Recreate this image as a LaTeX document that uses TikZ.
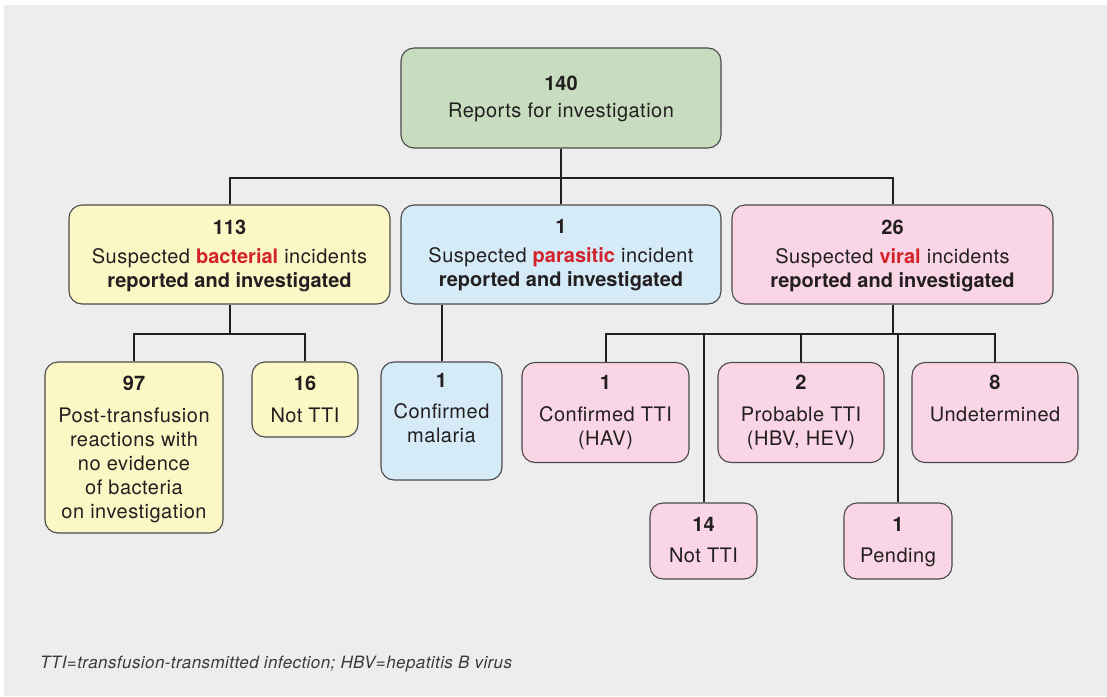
\documentclass[tikz,border=0pt]{standalone}
\usepackage{fontspec}
\setmainfont{TeX Gyre Heros}[LetterSpace=2.5, BoldFeatures={LetterSpace=0}]
\definecolor{bg}{HTML}{EDEDED}
\definecolor{ink}{HTML}{231F20}
\definecolor{edge}{HTML}{4A4A4A}
\definecolor{gfill}{HTML}{C8DDC0}
\definecolor{yfill}{HTML}{FCF8C5}
\definecolor{bfill}{HTML}{D5EBF8}
\definecolor{pfill}{HTML}{F9D5E5}
\definecolor{hl}{HTML}{D2232A}
\definecolor{notec}{HTML}{3A3A3A}
\newcommand{\hlw}[1]{\textcolor{hl}{\textbf{#1}}}
\begin{document}
\begin{tikzpicture}[x=1pt,y=-1pt,
  box/.style={draw=edge, line width=1.1pt, rounded corners=13pt, inner sep=0pt},
  gbox/.style={box, fill=gfill},
  ybox/.style={box, fill=yfill},
  bbox/.style={box, fill=bfill},
  pbox/.style={box, fill=pfill},
  txt/.style={align=center, inner sep=0pt, text=ink, anchor=north, font=\fontsize{20}{24}\selectfont},
  link/.style={draw=ink, line width=2pt}]
\useasboundingbox (0,0) rectangle (1107,696);
\fill[bg] (4,5) rectangle (1107,696);

% level 0
\node[gbox, minimum width=320pt, minimum height=100pt] (top) at (561,98) {};
\node[txt] (topT) at ([yshift=-28pt]top.north) {\textbf{140}\\[3pt]Reports for investigation};

% level 1
\node[ybox, minimum width=321pt, minimum height=99pt] (bact) at (229.5,254.5) {};
\node[txt] (bactT) at ([yshift=-15pt]bact.north) {\textbf{113}\\[5pt]Suspected \hlw{bacterial} incidents\\\textbf{reported and investigated}};

\node[bbox, minimum width=320pt, minimum height=99pt] (para) at (561,254.5) {};
\node[txt] (paraT) at ([yshift=-15pt]para.north) {\textbf{1}\\[5pt]Suspected \hlw{parasitic} incident\\\textbf{reported and investigated}};

\node[pbox, minimum width=321pt, minimum height=99pt] (viral) at (892.5,254.5) {};
\node[txt] (viralT) at ([yshift=-15pt]viral.north) {\textbf{26}\\[5pt]Suspected \hlw{viral} incidents\\\textbf{reported and investigated}};

% level 2 bacterial
\node[ybox, minimum width=178pt, minimum height=171pt] (b97) at (134,447.5) {};
\node[txt] (b97T) at ([yshift=-14pt]b97.north) {\textbf{97}\\[8pt]Post-transfusion\\reactions with\\no evidence\\of bacteria\\on investigation};

\node[ybox, minimum width=106pt, minimum height=75pt] (b16) at (305,399.5) {};
\node[txt] (b16T) at ([yshift=-14pt]b16.north) {\textbf{16}\\[8pt]Not TTI};

% level 2 parasitic
\node[bbox, minimum width=121pt, minimum height=118pt] (mal) at (441.5,421) {};
\node[txt] (malT) at ([yshift=-12pt]mal.north) {\textbf{1}\\[7pt]Confirmed\\malaria};

% level 2 viral
\node[pbox, minimum width=167pt, minimum height=100pt] (ctti) at (605.5,412.5) {};
\node[txt] (cttiT) at ([yshift=-13pt]ctti.north) {\textbf{1}\\[8pt]Confirmed TTI\\(HAV)};

\node[pbox, minimum width=166pt, minimum height=100pt] (ptti) at (801,412.5) {};
\node[txt] (pttiT) at ([yshift=-13pt]ptti.north) {\textbf{2}\\[8pt]Probable TTI\\(HBV, HEV)};

\node[pbox, minimum width=166pt, minimum height=100pt] (und) at (995,412.5) {};
\node[txt] (undT) at ([yshift=-13pt]und.north) {\textbf{8}\\[8pt]Undetermined};

\node[pbox, minimum width=107pt, minimum height=76pt] (n14) at (703.5,541) {};
\node[txt] (n14T) at ([yshift=-15pt]n14.north) {\textbf{14}\\[7pt]Not TTI};

\node[pbox, minimum width=108pt, minimum height=76pt] (pend) at (898,541) {};
\node[txt] (pendT) at ([yshift=-15pt]pend.north) {\textbf{1}\\[7pt]Pending};

% connectors
\draw[link] (top.south) -- ++(0,29) -| (bact.north);
\draw[link] (top.south) -- ++(0,29) -| (viral.north);
\draw[link] (top.south) -- (para.north);

\draw[link] (bact.south) -- ++(0,29) -| (b97.north);
\draw[link] (bact.south) -- ++(0,29) -| (b16.north);

\draw[link] (mal.north |- para.south) -- (mal.north);

\draw[link] (viral.south) -- ++(0,29) -| (ctti.north);
\draw[link] (viral.south) -- ++(0,29) -| (ptti.north);
\draw[link] (viral.south) -- ++(0,29) -| (und.north);
\draw[link] (viral.south) -- ++(0,29) -| (n14.north);
\draw[link] (viral.south) -- ++(0,29) -| (pend.north);

% footnote
\node[anchor=base west, inner sep=0pt, text=notec, font=\fontsize{17}{20}\selectfont\itshape] (note) at (40,668) {TTI=transfusion-transmitted infection; HBV=hepatitis B virus};
\end{tikzpicture}
\end{document}
